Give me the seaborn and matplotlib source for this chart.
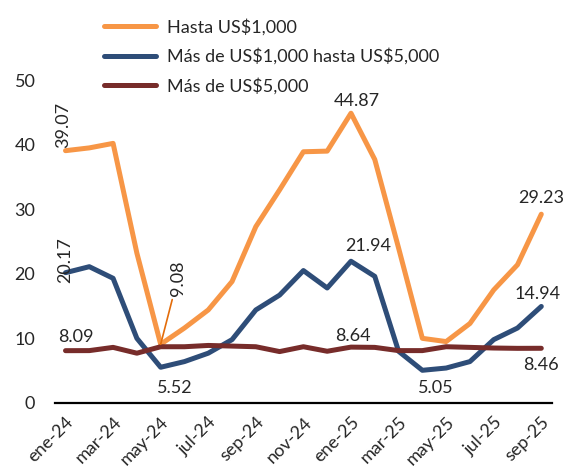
import pandas as pd
import matplotlib.pyplot as plt
import seaborn as sns

# meses ene-24 .. sep-25
meses = ['ene-24', 'feb-24', 'mar-24', 'abr-24', 'may-24', 'jun-24', 'jul-24',
         'ago-24', 'sep-24', 'oct-24', 'nov-24', 'dic-24', 'ene-25', 'feb-25',
         'mar-25', 'abr-25', 'may-25', 'jun-25', 'jul-25', 'ago-25', 'sep-25']

hasta_1000 = [39.07, 39.5, 40.2, 23.2, 9.08, 11.6, 14.4, 18.8, 27.3, 33.0, 38.9,
              39.0, 44.87, 37.7, 24.0, 10.0, 9.5, 12.3, 17.5, 21.4, 29.23]
de_1000_a_5000 = [20.17, 21.1, 19.3, 10.0, 5.52, 6.4, 7.7, 9.8, 14.4, 16.7, 20.5,
                  17.8, 21.94, 19.6, 8.0, 5.05, 5.4, 6.4, 9.8, 11.6, 14.94]
mas_5000 = [8.09, 8.1, 8.6, 7.7, 8.7, 8.7, 8.9, 8.8, 8.7, 7.95, 8.7,
            8.0, 8.64, 8.6, 8.1, 8.1, 8.7, 8.6, 8.5, 8.45, 8.46]

series = ['Hasta US$1,000', 'Más de US$1,000 hasta US$5,000', 'Más de US$5,000']
colores = ['#F79646', '#2E4D78', '#772C2A']

df = pd.DataFrame({
    'idx': list(range(len(meses))) * 3,
    'valor': hasta_1000 + de_1000_a_5000 + mas_5000,
    'serie': [s for s in series for _ in meses],
})

sns.set_style('white')
plt.rcParams['font.family'] = ['Lato', 'DejaVu Sans']
plt.rcParams['text.parse_math'] = False  # los "$" son texto, no mathtext

fig = plt.figure(figsize=(5.65, 4.74), dpi=100)
ax = fig.add_axes([0.097, 0.15, 0.88, 0.681])

sns.lineplot(data=df, x='idx', y='valor', hue='serie', palette=colores,
             linewidth=3.6, sort=False, ax=ax)

ax.set_xlim(-0.45, 20.45)
ax.set_ylim(0, 50)
ax.set_yticks(range(0, 51, 10))
ax.set_xticks(range(0, len(meses), 2))
ax.set_xticklabels(meses[::2], rotation=45, ha='right', rotation_mode='anchor')
ax.tick_params(axis='both', length=0, labelsize=13)
ax.tick_params(axis='x', pad=8)
ax.tick_params(axis='y', pad=14)
ax.set_xlabel('')
ax.set_ylabel('')
for s in ['top', 'right', 'left']:
    ax.spines[s].set_visible(False)
ax.spines['bottom'].set_color('black')
ax.spines['bottom'].set_linewidth(1.6)

# etiquetas de datos
def etiqueta(txt, x, y, dx, dy, **kw):
    ax.annotate(txt, (x, y), xytext=(dx, dy), textcoords='offset pixels',
                ha='center', va='center', fontsize=13, **kw)

etiqueta(f'{hasta_1000[0]:.2f}', 0, hasta_1000[0], -2, 26, rotation=90)
etiqueta(f'{de_1000_a_5000[0]:.2f}', 0, de_1000_a_5000[0], 0, 13, rotation=90)
etiqueta(f'{mas_5000[0]:.2f}', 0, mas_5000[0], 10, 14)
etiqueta(f'{hasta_1000[12]:.2f}', 12, hasta_1000[12], 6, 12)
etiqueta(f'{de_1000_a_5000[12]:.2f}', 12, de_1000_a_5000[12], 17, 15)
etiqueta(f'{mas_5000[12]:.2f}', 12, mas_5000[12], 2, 11)
etiqueta(f'{hasta_1000[20]:.2f}', 20, hasta_1000[20], 0, 16)
etiqueta(f'{de_1000_a_5000[20]:.2f}', 20, de_1000_a_5000[20], -4, 12)
etiqueta(f'{mas_5000[20]:.2f}', 20, mas_5000[20], 0, -17)
etiqueta(f'{de_1000_a_5000[15]:.2f}', 15, de_1000_a_5000[15], 13, -18)
etiqueta(f'{de_1000_a_5000[4]:.2f}', 4, de_1000_a_5000[4], 14, -21)

# 9.08 con línea guía
ax.annotate(f'{hasta_1000[4]:.2f}', (4, hasta_1000[4]), xytext=(17, 48),
            textcoords='offset pixels', ha='center', va='bottom', rotation=90,
            fontsize=13,
            arrowprops=dict(arrowstyle='-', color='#E36C0A', lw=1.2,
                            shrinkA=0, shrinkB=0))

handles, labels = ax.get_legend_handles_labels()
ax.legend(handles, labels, loc='upper left', bbox_to_anchor=(0.155, 0.995),
          bbox_transform=fig.transFigure, frameon=False, fontsize=13,
          handlelength=2.9, handletextpad=0.6, labelspacing=0.7)

fig.savefig('out.png', dpi=100)
